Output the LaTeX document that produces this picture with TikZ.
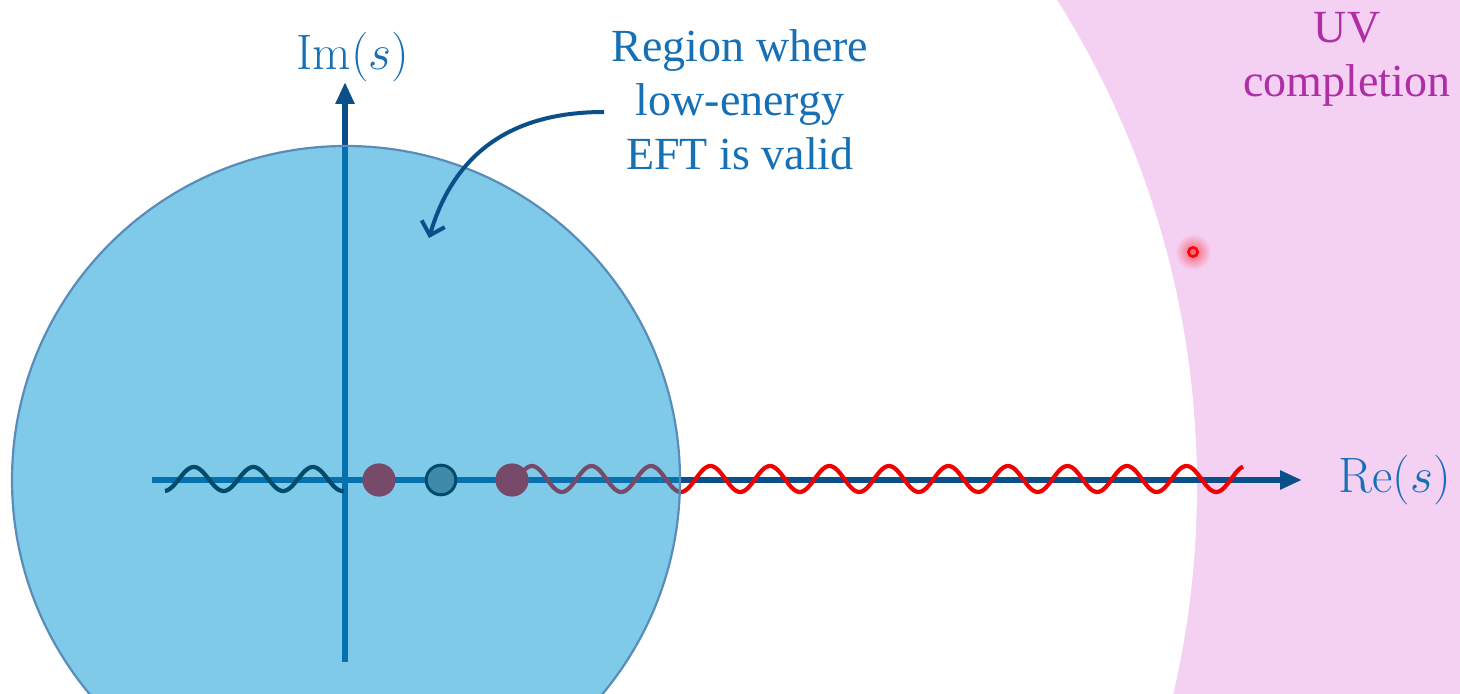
\documentclass[tikz,border=0pt]{standalone}
\usepackage[no-math]{fontspec}
\setmainfont{Liberation Serif}
\usetikzlibrary{arrows.meta}
\definecolor{navy}{RGB}{11,79,138}
\definecolor{eftblue}{RGB}{0,149,213}
\definecolor{rimblue}{RGB}{90,140,185}
\definecolor{txtblue}{RGB}{22,112,182}
\definecolor{uvpurple}{RGB}{175,45,165}
\definecolor{uvpink}{RGB}{244,208,242}
\definecolor{cutred}{RGB}{240,0,0}
\begin{document}
\begin{tikzpicture}[x=0.5pt,y=-0.5pt,
  axisline/.style={navy, line width=3pt, -{Triangle[length=11pt,width=9pt]}},
  cutwave/.style={line width=2.1pt, line join=round},
  callout/.style={navy, line width=2pt, -{Straight Barb[length=6pt,width=12pt]}},
  lbl/.style={txtblue, inner sep=0pt, align=center, font=\fontsize{23}{27}\selectfont},
  mathlbl/.style={txtblue, inner sep=0pt, font=\fontsize{24}{28}\selectfont}]
\useasboundingbox (0,0) rectangle (1460,694);
\clip (0,0) rectangle (1460,694);
% UV region
\fill[uvpink] (0,0) rectangle (1460,694);
\fill[white] (284,486) circle[radius=456.5pt];
% axes
\coordinate (xs) at (152,480);
\coordinate (xe) at (1302,480);
\coordinate (ys) at (345,662);
\coordinate (ye) at (345,82);
\draw[axisline] (xs) -- (xe);
\draw[axisline] (ys) -- (ye);
% branch cuts
\draw[cutwave, black] plot[domain=165:344, samples=200] (\x,{479-12*sin(6.0504*(\x-179))});
\draw[cutwave, cutred] plot[domain=512:1243, samples=400] (\x,{479-13*sin(6.0504*(\x-695.6))});
% poles
\fill[cutred] (379,480) circle[radius=8.3pt];
\filldraw[fill=gray, draw=black, line width=1.5pt] (441,480) circle[radius=7.4pt];
\fill[cutred] (512,480) circle[radius=8.3pt];
% EFT disc
\fill[eftblue, opacity=0.5] (346,480) circle[radius=167pt];
\draw[rimblue, line width=1.1pt] (346,480) circle[radius=167pt];
% labels
\node[lbl, anchor=north] (regionlbl) at (740,29) {Region where\\low-energy\\EFT is valid};
\node[lbl, anchor=north, text=uvpurple] (uvlbl) at (1347,12) {UV\\completion};
\node[mathlbl] (imlbl) at (353,57) {$\mathrm{Im}(s)$};
\node[mathlbl] (relbl) at (1395,480) {$\mathrm{Re}(s)$};
% callout arrow
\coordinate (arrS) at (604,112);
\coordinate (arrE) at (429,238);
\draw[callout] (arrS) .. controls (515,112) and (455,150) .. (arrE);
% UV pole
\coordinate (uvpole) at (1193,252);
\shade[inner color=red!55!uvpink, outer color=uvpink] (uvpole) circle[radius=9pt];
\draw[red, line width=1.3pt] (uvpole) circle[radius=2.3pt];
\end{tikzpicture}
\end{document}
